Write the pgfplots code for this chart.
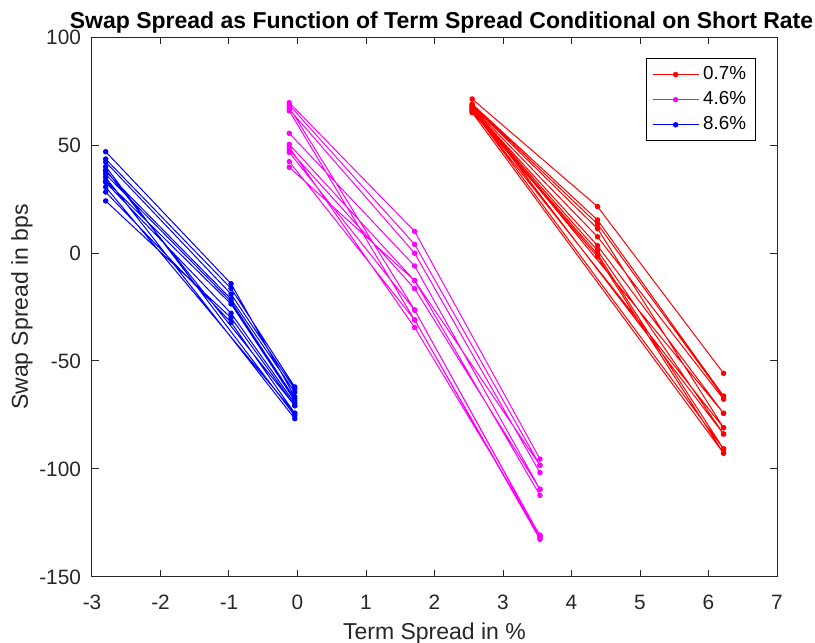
\documentclass[border=0pt]{standalone}
\usepackage{pgfplots}
\pgfplotsset{compat=1.18}
\usepackage{pgfplotstable}
\usepackage{fontspec}
\setmainfont{Liberation Sans}

\definecolor{axgray}{rgb}{0.15,0.15,0.15}
\definecolor{mred}{rgb}{1,0,0}
\definecolor{mmag}{rgb}{1,0,1}
\definecolor{mblue}{rgb}{0,0,1}

% short rate 0.7%
\pgfplotstableread{
x y
2.55 71.3
4.38 21.5
6.22 -55.7
nan nan
2.55 69.0
4.38 15.3
6.22 -66.2
nan nan
2.55 68.6
4.38 13.4
6.22 -66.8
nan nan
2.55 68.2
4.38 11.3
6.22 -80.9
nan nan
2.55 67.6
4.38 7.5
6.22 -67.7
nan nan
2.55 67.0
4.38 3.4
6.22 -74.2
nan nan
2.55 66.6
4.38 1.1
6.22 -83.8
nan nan
2.55 66.0
4.38 -0.5
6.22 -90.7
nan nan
2.55 65.5
4.38 -1.7
6.22 -92.7
nan nan
2.55 67.2
6.22 -74.2
nan nan
2.55 66.3
6.22 -90.7
nan nan
2.55 65.0
6.22 -92.7
nan nan
2.55 68.0
6.22 -83.8
nan nan
2.55 65.8
6.22 -80.9
}\redtab

% short rate 4.6%
\pgfplotstableread{
x y
-0.12 69.6
1.71 10.0
3.54 -95.4
nan nan
-0.12 68.5
1.71 4.0
3.54 -98.3
nan nan
-0.12 67.4
1.71 -26.4
3.54 -131.3
nan nan
-0.12 66.5
1.71 -0.1
3.54 -101.7
nan nan
-0.12 65.8
1.71 -31.0
3.54 -132.6
nan nan
-0.12 55.4
1.71 -6.0
3.54 -109.4
nan nan
-0.12 50.3
1.71 -12.8
3.54 -112.2
nan nan
-0.12 48.9
1.71 -34.5
3.54 -130.6
nan nan
-0.12 47.7
1.71 -16.5
3.54 -109.4
nan nan
-0.12 46.6
1.71 -26.4
3.54 -131.0
nan nan
-0.12 42.3
1.71 -31.0
3.54 -132.0
nan nan
-0.12 39.7
1.71 -12.8
3.54 -98.3
}\magtab

% short rate 8.6%
\pgfplotstableread{
x y
-2.80 46.9
-0.97 -14.2
-0.04 -66.5
nan nan
-2.80 43.5
-0.97 -16.4
-0.04 -62.0
nan nan
-2.80 42.1
-0.97 -19.0
-0.04 -63.0
nan nan
-2.80 37.7
-0.97 -21.3
-0.04 -64.4
nan nan
-2.80 36.4
-0.97 -22.5
-0.04 -67.4
nan nan
-2.80 33.5
-0.97 -23.6
-0.04 -68.4
nan nan
-2.80 32.7
-0.97 -27.9
-0.04 -69.6
nan nan
-2.80 28.2
-0.97 -32.1
-0.04 -74.2
nan nan
-2.80 24.1
-0.97 -30.0
-0.04 -70.7
nan nan
-2.80 40.0
-0.04 -75.3
nan nan
-2.80 35.0
-0.04 -76.7
nan nan
-2.80 30.5
-0.04 -74.2
nan nan
-2.80 38.5
-0.04 -70.7
}\bluetab

\begin{document}
\begin{tikzpicture}
\begin{axis}[
  name=ax,
  scale only axis,
  width=342.5pt, height=270pt,
  xmin=-3, xmax=7, ymin=-150, ymax=100,
  xtick={-3,-2,...,7},
  ytick={-150,-100,...,100},
  tick align=inside,
  major tick length=3.5pt,
  axis line style={axgray, line width=0.5pt},
  tick style={axgray, line width=0.5pt},
  /pgf/number format/assume math mode=true,
  ticklabel style={font=\fontsize{10.4}{12}\selectfont, text=axgray},
  xticklabel style={yshift=-5.5pt},
  yticklabel style={xshift=-2pt},
  title={Swap Spread as Function of Term Spread Conditional on Short Rate},
  title style={at={(axis description cs:0.5,1)}, anchor=base, yshift=-1.5pt, xshift=3.5pt,
    font=\bfseries\fontsize{11.5}{13}\selectfont},
  xlabel={Term Spread in \%},
  ylabel={Swap Spread in bps},
  xlabel style={at={(axis description cs:0.5,0)}, anchor=base, yshift=-31.5pt,
    font=\fontsize{11.5}{13}\selectfont, text=axgray},
  % the default y label is already turned by 90 degrees: yshift moves it left
  ylabel style={at={(axis description cs:0,0.5)}, anchor=base, yshift=32pt,
    font=\fontsize{11.5}{13}\selectfont, text=axgray},
  legend style={at={(axis description cs:1,1)}, anchor=north east,
    xshift=-10.5pt, yshift=-10.5pt, draw=black, line width=0.5pt,
    font=\fontsize{9.4}{11}\selectfont, inner xsep=2.75pt, inner ysep=2pt,
    row sep=0.5pt},
  legend cell align=left,
  legend image code/.code={
    \draw[mark repeat=2,mark phase=2,#1] plot coordinates {(0pt,0pt) (11.5pt,0pt) (23pt,0pt)};
  },
  unbounded coords=jump,
  every axis plot/.append style={line width=0.5pt, mark=*, mark size=1.1pt},
]
\addplot[mred, mark options={fill=mred, draw=mred}] table {\redtab};
\addlegendentry{0.7\%}
\addplot[mmag, mark options={fill=mmag, draw=mmag}] table {\magtab};
\addlegendentry{4.6\%}
\addplot[mblue, mark options={fill=mblue, draw=mblue}] table {\bluetab};
\addlegendentry{8.6\%}
\end{axis}
\pgfresetboundingbox
\path[use as bounding box] ([xshift=-46pt,yshift=-33pt]ax.south west)
  rectangle ([xshift=19pt,yshift=18.5pt]ax.north east);
\end{tikzpicture}
\end{document}
